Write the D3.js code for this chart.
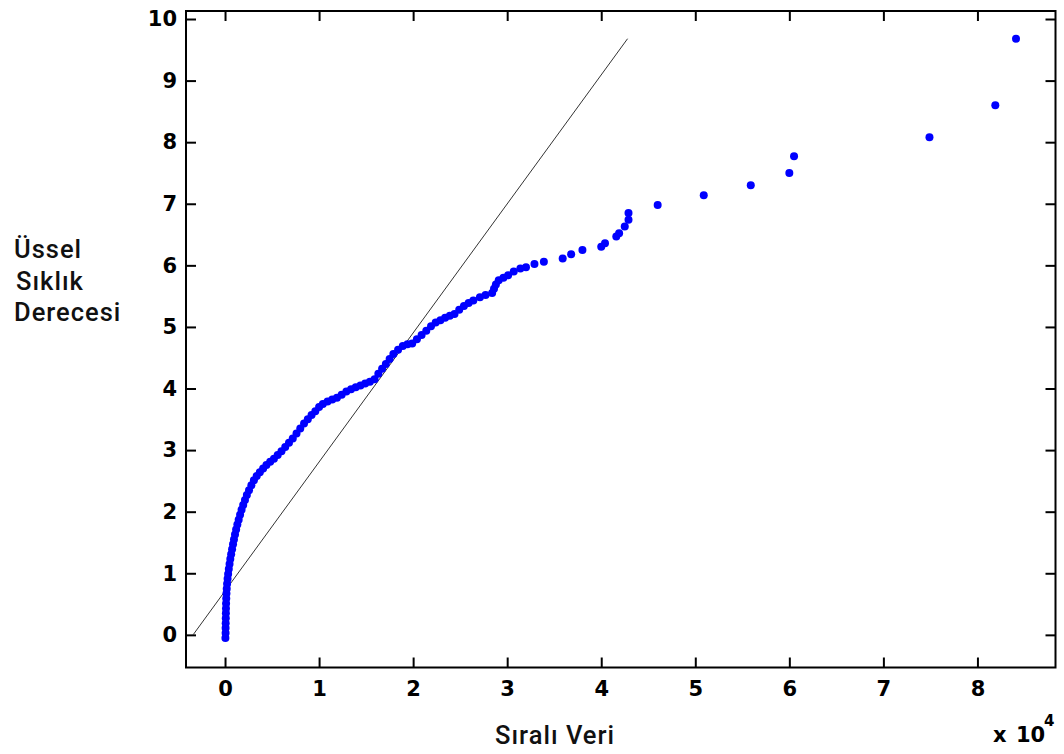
<!DOCTYPE html>
<html>
<head>
<meta charset="utf-8">
<script src="https://cdn.jsdelivr.net/npm/d3@7"></script>
<style>
  body { margin: 0; background: #fff; }
  .tick text { font-family: "DejaVu Sans", sans-serif; font-weight: bold; font-size: 21px; fill: #000; }
  .lbl { font-family: Roboto, sans-serif; font-weight: 500; font-size: 25.5px; letter-spacing: 1px; fill: #111; }
</style>
</head>
<body>
<svg width="1064" height="754"></svg>
<script>
// sorted data (x in units of 10^4) vs exponential frequency degree
var dataX = [0.004, 0.006, 0.006, 0.007, 0.008, 0.009, 0.010, 0.011, 0.013, 0.015, 0.018, 0.022, 0.027, 0.033,
  0.04, 0.048, 0.056, 0.065, 0.075, 0.085, 0.095, 0.106, 0.118, 0.131, 0.145, 0.16, 0.176, 0.193, 0.212, 0.232,
  0.255, 0.28, 0.307, 0.337, 0.37, 0.405, 0.44, 0.48, 0.52, 0.56, 0.60, 0.64, 0.68, 0.72, 0.76, 0.80, 0.84, 0.88,
  0.92, 0.96, 1.00, 1.04, 1.09, 1.14, 1.19, 1.24, 1.29, 1.34, 1.39, 1.44, 1.49, 1.54, 1.59, 1.63, 1.67, 1.71, 1.75,
  1.79, 1.84, 1.89, 1.94, 1.99, 2.04, 2.09, 2.14, 2.19, 2.24, 2.29, 2.34, 2.39, 2.44, 2.49, 2.54, 2.59, 2.64, 2.71,
  2.77, 2.84, 2.86, 2.88, 2.91, 2.96, 3.01, 3.07, 3.14, 3.20, 3.29, 3.39, 3.59, 3.68, 3.80, 4.00, 4.04, 4.16, 4.19,
  4.25, 4.29, 4.29, 4.60, 5.09, 5.59, 6.00, 6.05, 7.49, 8.19, 8.41];
var dataY = [-0.05, 0.03, 0.11, 0.19, 0.27, 0.35, 0.43, 0.51, 0.59, 0.67, 0.75, 0.83, 0.91, 0.99,
  1.07, 1.15, 1.23, 1.31, 1.39, 1.47, 1.55, 1.63, 1.71, 1.79, 1.87, 1.95, 2.03, 2.11, 2.19, 2.27,
  2.35, 2.43, 2.51, 2.58, 2.64, 2.70, 2.76, 2.81, 2.86, 2.92, 2.98, 3.05, 3.12, 3.19, 3.27, 3.35, 3.43, 3.50,
  3.57, 3.63, 3.70, 3.75, 3.79, 3.82, 3.85, 3.90, 3.95, 3.99, 4.02, 4.05, 4.08, 4.11, 4.15, 4.24, 4.32, 4.40, 4.48,
  4.56, 4.63, 4.69, 4.72, 4.73, 4.80, 4.87, 4.94, 5.01, 5.07, 5.11, 5.15, 5.18, 5.21, 5.28, 5.34, 5.39, 5.43, 5.48,
  5.52, 5.55, 5.62, 5.69, 5.76, 5.80, 5.84, 5.90, 5.95, 5.97, 6.02, 6.06, 6.11, 6.18, 6.25, 6.30, 6.36, 6.47, 6.52,
  6.63, 6.74, 6.85, 6.98, 7.14, 7.30, 7.50, 7.77, 8.08, 8.60, 9.68];

// reference line end points
var refX = [-0.34, 4.28];
var refY = [0, 9.68];

var xTicks = [0, 1, 2, 3, 4, 5, 6, 7, 8];
var yTicks = [0, 1, 2, 3, 4, 5, 6, 7, 8, 9, 10];
var yLabelLines = ["Üssel", "Sıklık", "Derecesi"];

var svg = d3.select("svg"),
    box = {left: 186, right: 1055.5, top: 11, bottom: 667.5};

var x = d3.scaleLinear().domain([-0.415, 8.83]).range([box.left, box.right]);
var y = d3.scaleLinear().domain([-0.53, 10.13]).range([box.bottom, box.top]);

// frame
svg.append("rect")
    .attr("x", box.left).attr("y", box.top)
    .attr("width", box.right - box.left).attr("height", box.bottom - box.top)
    .attr("fill", "none").attr("stroke", "#000").attr("stroke-width", 2);

function styleAxis(g) {
  g.select(".domain").remove();
  g.selectAll(".tick line").attr("stroke", "#000").attr("stroke-width", 2);
}

svg.append("g")
    .attr("transform", "translate(0," + box.bottom + ")")
    .call(d3.axisBottom(x).tickValues(xTicks).tickFormat(d3.format("d")).tickSizeInner(-10).tickSizeOuter(0).tickPadding(14))
    .call(styleAxis);

svg.append("g")
    .attr("transform", "translate(0," + box.top + ")")
    .call(d3.axisTop(x).tickValues(xTicks).tickFormat("").tickSizeInner(-10).tickSizeOuter(0))
    .call(styleAxis);

svg.append("g")
    .attr("transform", "translate(" + box.left + ",0)")
    .call(d3.axisLeft(y).tickValues(yTicks).tickFormat(d3.format("d")).tickSizeInner(-10).tickSizeOuter(0).tickPadding(9))
    .call(styleAxis);

svg.append("g")
    .attr("transform", "translate(" + box.right + ",0)")
    .call(d3.axisRight(y).tickValues(yTicks).tickFormat("").tickSizeInner(-10).tickSizeOuter(0))
    .call(styleAxis);

// reference line
svg.append("line")
    .attr("x1", x(refX[0])).attr("y1", y(refY[0]))
    .attr("x2", x(refX[1])).attr("y2", y(refY[1]))
    .attr("stroke", "#333").attr("stroke-width", 1);

// points
svg.append("g")
  .selectAll("circle")
  .data(dataX)
  .enter().append("circle")
    .attr("cx", function(d) { return x(d); })
    .attr("cy", function(d, i) { return y(dataY[i]); })
    .attr("r", 4)
    .attr("fill", "#0000ff");

// labels
svg.append("text")
    .attr("class", "lbl")
    .selectAll("tspan")
    .data(yLabelLines)
    .enter().append("tspan")
      .attr("x", function(d, i) { return i == 1 ? 16 : 14; })
      .attr("y", function(d, i) { return 258 + i * 31.5; })
      .text(function(d) { return d; });

svg.append("text")
    .attr("class", "lbl")
    .attr("x", 555).attr("y", 744)
    .attr("text-anchor", "middle")
    .text("Sıralı Veri");

var mult = svg.append("g")
    .style("font-family", "DejaVu Sans, sans-serif")
    .style("font-weight", "bold");
mult.append("text").attr("x", 993).attr("y", 742).style("font-size", "21px").text("x");
mult.append("text").attr("x", 1016).attr("y", 742).style("font-size", "21px").text("10");
mult.append("text").attr("x", 1044).attr("y", 726).style("font-size", "15px").text("4");
</script>
</body>
</html>
